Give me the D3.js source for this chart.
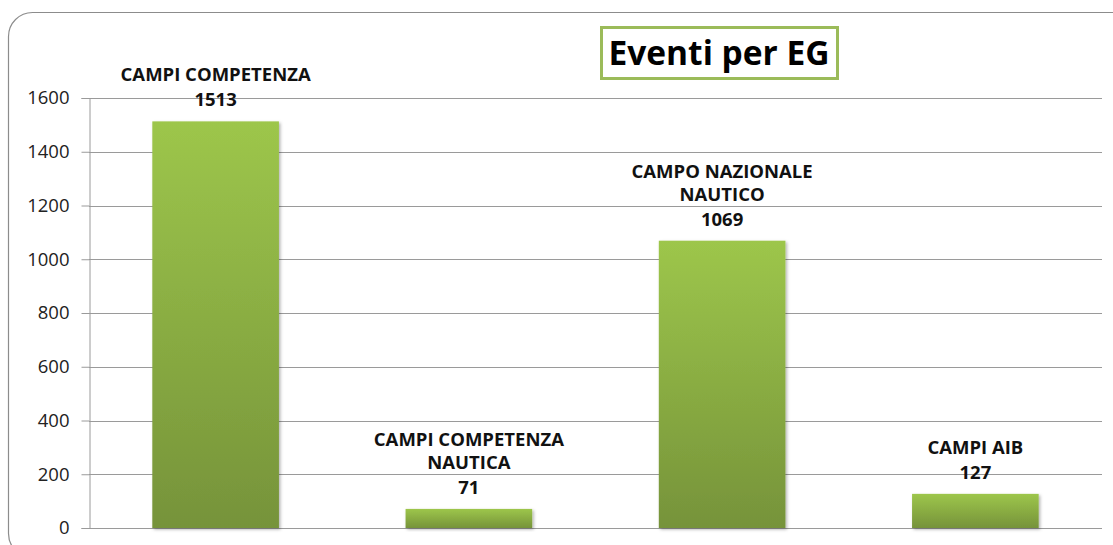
<!DOCTYPE html>
<html>
<head>
<meta charset="utf-8">
<script src="https://cdn.jsdelivr.net/npm/d3@7"></script>
<style>
  html, body { margin: 0; padding: 0; background: #fff; }
  svg { display: block; }
</style>
</head>
<body>
<svg id="chart" width="1113" height="545"></svg>
<script>
// Event counts per category
const categories = ["CAMPI COMPETENZA", "CAMPI COMPETENZA NAUTICA", "CAMPO NAZIONALE NAUTICO", "CAMPI AIB"];
const labelLines = [["CAMPI COMPETENZA"], ["CAMPI COMPETENZA", "NAUTICA"], ["CAMPO NAZIONALE", "NAUTICO"], ["CAMPI AIB"]];
const values = [1513, 71, 1069, 127];
const yTicks = [0, 200, 400, 600, 800, 1000, 1200, 1400, 1600];
const title = "Eventi per EG";

const svg = d3.select("#chart");
const font = "'Open Sans', 'Noto Sans', sans-serif";

const plot = { left: 89, right: 1102, top: 98, bottom: 528 };

// Outer frame with rounded corners
svg.append("rect")
  .attr("x", 8.5).attr("y", 12.5)
  .attr("width", 1130).attr("height", 545)
  .attr("rx", 24).attr("ry", 24)
  .attr("fill", "#fff")
  .attr("stroke", "#8c8c8c").attr("stroke-width", 1.2);

const x = d3.scaleBand()
  .domain(categories)
  .range([plot.left, plot.right])
  .paddingInner(0.5)
  .paddingOuter(0.25);

const y = d3.scaleLinear()
  .domain([0, 1600])
  .range([plot.bottom, plot.top]);

// Bar gradient (light green at top to olive at bottom)
const defs = svg.append("defs");
const grad = defs.append("linearGradient")
  .attr("id", "barGrad").attr("x1", 0).attr("y1", 0).attr("x2", 0).attr("y2", 1);
grad.append("stop").attr("offset", "0%").attr("stop-color", "#9dc64b");
grad.append("stop").attr("offset", "100%").attr("stop-color", "#76933a");

const shadow = defs.append("filter").attr("id", "barShadow")
  .attr("x", "-10%").attr("y", "-10%").attr("width", "130%").attr("height", "130%");
shadow.append("feDropShadow")
  .attr("dx", 1.5).attr("dy", 1.5).attr("stdDeviation", 1.5)
  .attr("flood-color", "#000").attr("flood-opacity", 0.3);

// Horizontal gridlines
svg.append("g")
  .selectAll("line")
  .data(yTicks)
  .join("line")
  .attr("x1", plot.left).attr("x2", plot.right)
  .attr("y1", d => Math.round(y(d)) + 0.5).attr("y2", d => Math.round(y(d)) + 0.5)
  .attr("stroke", "#9a9a9a").attr("stroke-width", 1);

// Y axis
const yAxis = d3.axisLeft(y).tickValues(yTicks).tickSize(8).tickPadding(12).tickFormat(d3.format("d"));
const yg = svg.append("g")
  .attr("transform", `translate(${plot.left + 0.5},0)`)
  .call(yAxis);
yg.select(".domain").attr("stroke", "#9a9a9a");
yg.selectAll(".tick line").attr("stroke", "#9a9a9a");
yg.selectAll(".tick text")
  .attr("font-family", font)
  .attr("font-size", 18.5)
  .attr("fill", "#222");

// Bars
svg.append("g")
  .selectAll("rect")
  .data(values)
  .join("rect")
  .attr("x", (d, i) => x(categories[i]))
  .attr("y", d => y(d))
  .attr("width", x.bandwidth())
  .attr("height", d => y(0) - y(d))
  .attr("fill", "url(#barGrad)")
  .attr("filter", "url(#barShadow)");

// Category and value labels above each bar
const labels = svg.append("g")
  .attr("font-family", font)
  .attr("font-weight", 700)
  .attr("font-size", 18.5)
  .attr("fill", "#111")
  .attr("text-anchor", "middle");

values.forEach((v, i) => {
  const cx = x(categories[i]) + x.bandwidth() / 2;
  const valueBase = y(v) - 15;
  const lines = labelLines[i];
  lines.forEach((ln, j) => {
    labels.append("text")
      .attr("x", cx)
      .attr("y", valueBase - 25 - (lines.length - 1 - j) * 23)
      .text(ln);
  });
  labels.append("text")
    .attr("x", cx)
    .attr("y", valueBase)
    .text(v);
});

// Title box
svg.append("rect")
  .attr("x", 601.5).attr("y", 27.5)
  .attr("width", 236).attr("height", 51)
  .attr("fill", "#fff")
  .attr("stroke", "#9bbb59").attr("stroke-width", 3);
svg.append("text")
  .attr("x", 719).attr("y", 65)
  .attr("text-anchor", "middle")
  .attr("font-family", font)
  .attr("font-weight", 700)
  .attr("font-size", 33.5)
  .attr("fill", "#000")
  .text(title);
</script>
</body>
</html>
